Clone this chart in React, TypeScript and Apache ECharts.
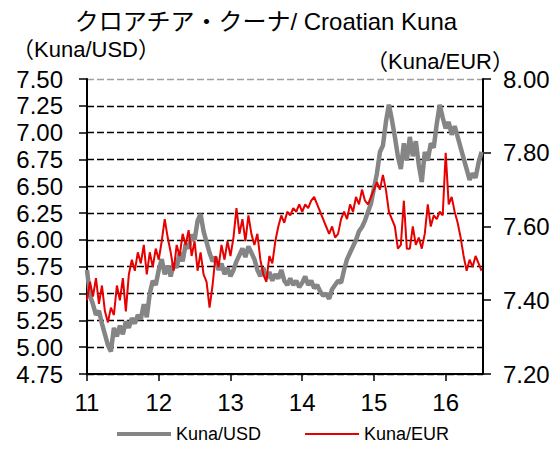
import React, { useEffect, useRef } from "react";
import * as echarts from "echarts";

// Semi-monthly observations, Jan 2011 .. Jul 2016 (x = year, 11 = 2011)
const usd = [
  5.72, 5.48, 5.40, 5.30, 5.34, 5.22, 5.12, 5.02, 4.96, 5.18,
  5.10, 5.20, 5.12, 5.24, 5.18, 5.27, 5.22, 5.30, 5.26, 5.40,
  5.28, 5.50, 5.62, 5.58, 5.72, 5.82, 5.68, 5.76, 5.66, 5.78,
  5.74, 5.88, 5.80, 5.96, 5.92, 6.05, 6.00, 6.18, 6.24, 6.08,
  5.98, 5.88, 5.80, 5.84, 5.72, 5.78, 5.68, 5.74, 5.66, 5.72,
  5.80, 5.86, 5.92, 5.84, 5.94, 5.88, 5.82, 5.72, 5.66, 5.74,
  5.64, 5.70, 5.62, 5.68, 5.64, 5.72, 5.62, 5.58, 5.64, 5.58,
  5.62, 5.56, 5.60, 5.66, 5.58, 5.62, 5.55, 5.58, 5.52, 5.48,
  5.50, 5.45, 5.54, 5.58, 5.62, 5.60, 5.72, 5.82, 5.88, 5.94,
  6.00, 6.08, 6.12, 6.18, 6.26, 6.34, 6.48, 6.62, 6.82, 6.88,
  7.10, 7.26, 7.12, 6.96, 6.78, 6.66, 6.90, 6.74, 6.96, 6.78,
  6.92, 6.70, 6.54, 6.82, 6.74, 6.90, 6.86, 7.08, 7.26, 7.14,
  7.04, 7.10, 6.98, 7.06, 6.96, 6.86, 6.76, 6.66, 6.56, 6.62,
  6.58, 6.72, 6.82,
];

const eur = [
  7.40, 7.45, 7.41, 7.46, 7.39, 7.44, 7.37, 7.34, 7.38, 7.36,
  7.44, 7.40, 7.46, 7.37, 7.47, 7.51, 7.48, 7.53, 7.50, 7.55,
  7.47, 7.53, 7.49, 7.54, 7.51, 7.56, 7.62, 7.57, 7.53, 7.48,
  7.55, 7.52, 7.58, 7.55, 7.59, 7.52, 7.56, 7.48, 7.53, 7.47,
  7.45, 7.38, 7.44, 7.52, 7.49, 7.55, 7.51, 7.56, 7.52, 7.57,
  7.65, 7.58, 7.62, 7.56, 7.63, 7.58, 7.55, 7.58, 7.51, 7.47,
  7.45, 7.52, 7.50, 7.56, 7.60, 7.63, 7.61, 7.64, 7.63, 7.65,
  7.64, 7.66, 7.64, 7.66, 7.65, 7.67, 7.68, 7.66, 7.64, 7.62,
  7.60, 7.58, 7.60, 7.57, 7.58, 7.62, 7.64, 7.62, 7.66, 7.64,
  7.68, 7.66, 7.70, 7.67, 7.66, 7.68, 7.70, 7.72, 7.70, 7.74,
  7.70, 7.64, 7.62, 7.60, 7.54, 7.55, 7.67, 7.54, 7.54, 7.60,
  7.55, 7.57, 7.54, 7.58, 7.66, 7.60, 7.63, 7.62, 7.64, 7.63,
  7.80, 7.66, 7.68, 7.64, 7.61, 7.57, 7.52, 7.48, 7.51, 7.49,
  7.52, 7.50, 7.48,
];

const dates = usd.map((_, i) => 11 + i / 24);

const xTicks = [11, 12, 13, 14, 15, 16];
const leftTicks = { min: 4.75, max: 7.5, step: 0.25 };
const rightTicks = { min: 7.2, max: 8.0, step: 0.2 };

const titleText = "クロアチア・クーナ/ Croatian Kuna";
const leftName = "（Kuna/USD）";
const rightName = "（Kuna/EUR）";
const seriesNames = ["Kuna/USD", "Kuna/EUR"];

const FONT = "'Liberation Sans', Arial, 'Noto Sans CJK JP', sans-serif";
const GRAY = "#858585";
const RED = "#e60000";

export default function App() {
  const ref = useRef<HTMLDivElement>(null);
  useEffect(() => {
    if (!ref.current) return;
    const chart = echarts.init(ref.current, undefined, { renderer: "svg" });
    const gridColors: string[] = [];
    for (let i = 0; i < 12; i++) gridColors.push(i === 11 ? "#a0a0a0" : "#000");
    chart.setOption({
      animation: false,
      backgroundColor: "#fff",
      textStyle: { fontFamily: FONT },
      grid: { left: 87, right: 76, top: 79, bottom: 76, containLabel: false },
      graphic: [
        {
          type: "text",
          x: 266,
          y: 9,
          style: {
            text: titleText,
            fontSize: 24,
            fontFamily: FONT,
            fill: "#000",
            textAlign: "center",
            textVerticalAlign: "top",
          },
        },
        {
          type: "text",
          x: 86,
          y: 38,
          style: {
            text: leftName,
            fontSize: 22,
            fontFamily: FONT,
            fill: "#000",
            textAlign: "center",
            textVerticalAlign: "top",
          },
        },
        {
          type: "text",
          x: 440,
          y: 50,
          style: {
            text: rightName,
            fontSize: 22,
            fontFamily: FONT,
            fill: "#000",
            textAlign: "center",
            textVerticalAlign: "top",
          },
        },
      ],
      legend: {
        bottom: 2,
        left: 112,
        itemWidth: 54,
        itemHeight: 12,
        itemGap: 44,
        textStyle: { fontSize: 18, fontFamily: FONT, color: "#000" },
        data: [
          {
            name: seriesNames[0],
            icon: "path://M0,4 L54,4 L54,8 L0,8 Z",
            itemStyle: { color: GRAY },
          },
          {
            name: seriesNames[1],
            icon: "path://M0,5 L54,5 L54,7 L0,7 Z",
            itemStyle: { color: RED },
          },
        ],
      },
      xAxis: {
        type: "value",
        min: 11,
        max: 16.52,
        interval: 1,
        axisLine: { lineStyle: { color: "#000", width: 2 } },
        axisTick: { length: 7, lineStyle: { color: "#000", width: 1.5 } },
        axisLabel: {
          fontSize: 24,
          color: "#000",
          margin: 16,
          showMaxLabel: false,
          formatter: (v: number) => (xTicks.includes(v) ? String(v) : ""),
        },
        splitLine: { show: false },
      },
      yAxis: [
        {
          type: "value",
          min: leftTicks.min,
          max: leftTicks.max,
          interval: leftTicks.step,
          position: "left",
          axisLine: { show: true, lineStyle: { color: "#000", width: 2 } },
          axisTick: { show: true, length: 8, lineStyle: { color: "#000", width: 1.5 } },
          axisLabel: {
            fontSize: 24,
            color: "#000",
            margin: 24,
            formatter: (v: number) => v.toFixed(2),
          },
          splitLine: {
            show: true,
            lineStyle: { color: gridColors, type: [7, 3], width: 1.4 },
          },
        },
        {
          type: "value",
          min: rightTicks.min,
          max: rightTicks.max,
          interval: rightTicks.step,
          position: "right",
          axisLine: { show: true, lineStyle: { color: "#000", width: 2 } },
          axisTick: { show: true, length: 8, lineStyle: { color: "#000", width: 1.5 } },
          axisLabel: {
            fontSize: 24,
            color: "#000",
            margin: 20,
            formatter: (v: number) => v.toFixed(2),
          },
          splitLine: { show: false },
        },
      ],
      series: [
        {
          name: seriesNames[0],
          type: "line",
          yAxisIndex: 0,
          symbol: "none",
          data: dates.map((d, i) => [d, usd[i]]),
          lineStyle: { color: GRAY, width: 4.5 },
          itemStyle: { color: GRAY },
          z: 2,
        },
        {
          name: seriesNames[1],
          type: "line",
          yAxisIndex: 1,
          symbol: "none",
          data: dates.map((d, i) => [d, eur[i]]),
          lineStyle: { color: RED, width: 2 },
          itemStyle: { color: RED },
          z: 3,
        },
      ],
    });
    return () => chart.dispose();
  }, []);
  return (
    <div
      ref={ref}
      style={{ position: "absolute", left: 0, top: 0, width: 559, height: 450 }}
    />
  );
}
